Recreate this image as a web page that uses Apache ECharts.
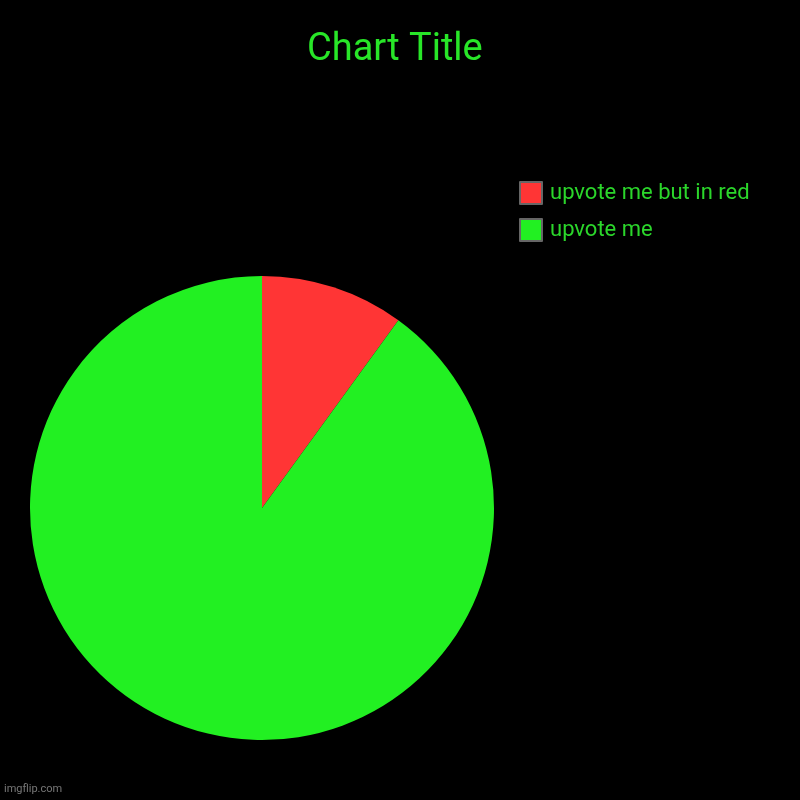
<!DOCTYPE html>
<html><head><meta charset="utf-8">
<script src="https://cdn.jsdelivr.net/npm/echarts@6/dist/echarts.min.js"></script>
<style>html,body{margin:0;padding:0;background:#000}#c{width:800px;height:800px}</style>
</head><body><div id="c"></div>
<script>
var categories = ['upvote me but in red', 'upvote me'];
var values = [10, 90];
var colors = ['#ff3535', '#22f022'];

var chart = echarts.init(document.getElementById('c'));
chart.setOption({
  backgroundColor: '#000',
  animation: false,
  title: {
    text: 'Chart Title', left: 307, top: 31, padding: 0,
    textStyle: { color: '#28e628', fontFamily: 'Roboto', fontSize: 38, fontWeight: 'normal' }
  },
  legend: {
    orient: 'vertical', left: 519, top: 181, padding: 0,
    itemWidth: 22, itemHeight: 22, itemGap: 13,
    icon: 'rect',
    data: categories,
    textStyle: { color: '#2bd62b', fontFamily: 'Roboto', fontSize: 22, padding: [0, 0, 0, 3] },
    itemStyle: { borderColor: '#666', borderWidth: 2 }
  },
  graphic: [{
    type: 'text', left: 4, top: 784,
    style: { text: 'imgflip.com', fill: '#777', font: '11px Roboto' }
  }],
  series: [{
    type: 'pie', center: [262, 508], radius: 232, startAngle: 90, clockwise: true,
    label: { show: false }, labelLine: { show: false },
    emphasis: { disabled: true },
    data: categories.map(function (n, i) {
      return { name: n, value: values[i], itemStyle: { color: colors[i] } };
    })
  }]
});
</script></body></html>
